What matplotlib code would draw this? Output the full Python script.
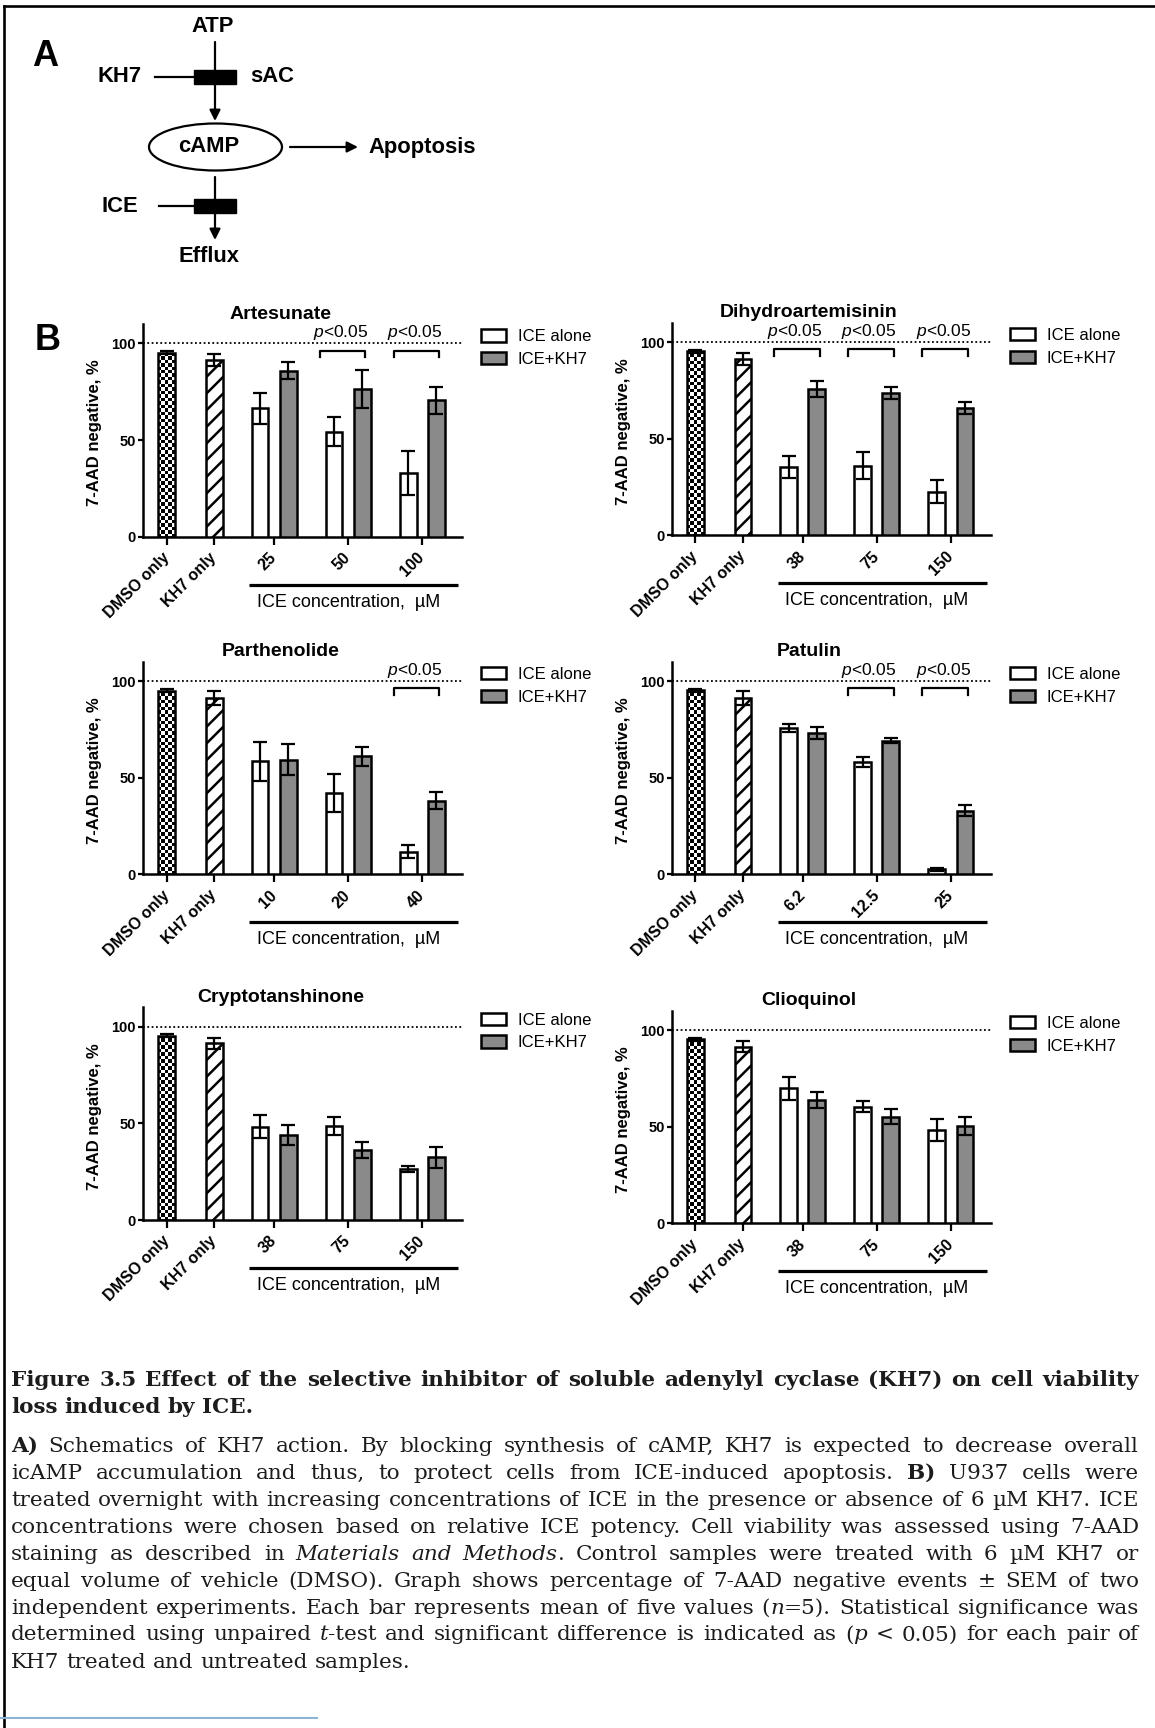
import re
import numpy as np
import matplotlib.pyplot as plt
from matplotlib.patches import Rectangle, Ellipse, Patch

plt.rcParams['font.family'] = ['Liberation Sans', 'DejaVu Sans']
plt.rcParams['mathtext.fontset'] = 'custom'
plt.rcParams['mathtext.rm'] = 'Liberation Sans'
plt.rcParams['mathtext.it'] = 'Liberation Sans:italic'
plt.rcParams['hatch.linewidth'] = 1.8

W, H = 1155, 1728

# viability data, % 7-AAD negative (mean and SEM)
titles = ['Artesunate', 'Dihydroartemisinin', 'Parthenolide', 'Patulin',
          'Cryptotanshinone', 'Clioquinol']
conc_labels = [['25', '50', '100'], ['38', '75', '150'], ['10', '20', '40'],
               ['6.2', '12.5', '25'], ['38', '75', '150'], ['38', '75', '150']]
dmso_mean = [95.2, 95.1, 95.0, 95.1, 95.4, 95.2]
dmso_sem = [0.8, 0.8, 0.8, 0.8, 0.8, 0.8]
kh7_mean = [91.4, 91.2, 91.3, 91.2, 91.4, 91.4]
kh7_sem = [3.0, 3.0, 3.5, 3.5, 3.0, 3.0]
alone_mean = [[66.4, 54.3, 32.8], [35.2, 36.1, 22.6], [58.4, 42.0, 11.7],
              [75.6, 58.3, 2.7], [48.3, 48.8, 26.4], [69.8, 60.3, 48.3]]
alone_sem = [[8.0, 7.6, 11.3], [5.6, 7.0, 6.0], [10.0, 10.0, 3.4],
             [2.2, 2.6, 0.8], [6.0, 4.7, 1.7], [6.0, 2.8, 5.6]]
combo_mean = [[85.9, 76.4, 70.7], [75.6, 73.6, 65.8], [59.3, 61.0, 38.0],
              [73.1, 69.2, 33.0], [44.0, 36.2, 32.4], [63.8, 55.2, 50.3]]
combo_sem = [[4.3, 10.0, 7.0], [4.0, 3.0, 3.0], [8.0, 5.0, 4.4],
             [3.0, 1.3, 2.6], [5.3, 4.2, 5.3], [4.3, 3.7, 4.8]]
sig_groups = [[1, 2], [0, 1, 2], [2], [1, 2], [], []]
legend_labels = ['ICE alone', 'ICE+KH7']

caption_lines = [
    ("^Figure 3.5 Effect of the selective inhibitor of soluble adenylyl cyclase (KH7) on cell viability", True),
    ("loss induced by ICE.^", False),
    ("^A)^ Schematics of KH7 action. By blocking synthesis of cAMP, KH7 is expected to decrease overall", True),
    ("icAMP accumulation and thus, to protect cells from ICE-induced apoptosis. ^B)^ U937 cells were", True),
    ("treated overnight with increasing concentrations of ICE in the presence or absence of 6 µM KH7. ICE", True),
    ("concentrations were chosen based on relative ICE potency. Cell viability was assessed using 7-AAD", True),
    ("staining as described in ~Materials and Methods~. Control samples were treated with 6 µM KH7 or", True),
    ("equal volume of vehicle (DMSO). Graph shows percentage of 7-AAD negative events ± SEM of two", True),
    ("independent experiments. Each bar represents mean of five values (~n~=5). Statistical significance was", True),
    ("determined using unpaired ~t~-test and significant difference is indicated as (~p~ < 0.05) for each pair of", True),
    ("KH7 treated and untreated samples.", False),
]
caption_y = [1380, 1407, 1446, 1473, 1500, 1527, 1554, 1581, 1608, 1634.5, 1661.5]

GREY = '#8a8a8a'
EDGE = 1.8

fig = plt.figure(figsize=(W / 100, H / 100), dpi=100)

# full-page layer in pixel units for the schematic, frame and caption
ov = fig.add_axes([0, 0, 1, 1])
ov.set_xlim(0, W)
ov.set_ylim(H, 0)
ov.axis('off')

ov.plot([4, 4], [6, H], color='k', lw=1.9, solid_capstyle='projecting')
ov.plot([4, W], [6, 6], color='k', lw=1.9, solid_capstyle='projecting')
ov.plot([0, 317], [1718, 1718], color='#8db4d6', lw=1.5)

# panel A: schematic
lab = dict(fontsize=15.8, fontweight='bold', ha='center', va='center')
ov.text(45.5, 56, 'A', fontsize=26, fontweight='bold', ha='center', va='center')
ov.text(47.5, 341, 'B', fontsize=26, fontweight='bold', ha='center', va='center')
ov.text(212.5, 27, 'ATP', **lab)
ov.text(120, 77, 'KH7', **lab)
ov.text(272, 77, 'sAC', **lab)
ov.text(209, 147, 'cAMP', **lab)
ov.text(368, 147, 'Apoptosis', fontsize=15.8, fontweight='bold', ha='left', va='center')
ov.text(120, 206, 'ICE', **lab)
ov.text(209, 256, 'Efflux', **lab)


def arrow(x0, y0, x1, y1):
    ov.annotate('', xy=(x1, y1), xytext=(x0, y0),
                arrowprops=dict(arrowstyle='-|>', lw=1.6, color='k',
                                mutation_scale=16, shrinkA=0, shrinkB=0))


arrow(215, 42, 215, 121)
arrow(290, 147, 358, 147)
arrow(215, 177, 215, 240)
ov.add_patch(Rectangle((194, 69.5), 42, 14, color='k'))
ov.add_patch(Rectangle((194, 199), 42, 14, color='k'))
ov.plot([155, 194], [76.5, 76.5], color='k', lw=1.6)
ov.plot([159, 194], [206, 206], color='k', lw=1.6)
ov.add_patch(Ellipse((215.5, 147), 133, 47, fill=False, lw=1.6, color='k'))

# panel B: six bar charts
col_left = [143.1, 671.7]
zero_line = [536.7, 535.3, 874.3, 874.3, 1220.0, 1223.3]
AX_W, AX_H = 319.0, 212.6
ctrl_x = [1.25, 3.75]
group_x = [6.9, 10.8, 14.7]
off, bw = 0.74, 0.88

for i, title in enumerate(titles):
    x0 = col_left[i % 2]
    y0 = zero_line[i]
    ax = fig.add_axes([x0 / W, 1 - y0 / H, AX_W / W, AX_H / H])
    ax.patch.set_alpha(0)

    # DMSO bar with a checkerboard fill
    dm = ax.bar(ctrl_x[0], dmso_mean[i], bw, facecolor='none', edgecolor='k',
                lw=EDGE, zorder=3)[0]
    cell = 1.8
    ny = int(np.ceil(dmso_mean[i] / cell)) + 1
    board = np.indices((ny, 5)).sum(axis=0) % 2
    im = ax.imshow(board, cmap='gray', origin='lower', aspect='auto',
                   interpolation='nearest', zorder=2,
                   extent=(ctrl_x[0] - bw / 2, ctrl_x[0] + bw / 2, 0, ny * cell))
    im.set_clip_path(dm)

    ax.bar(ctrl_x[1], kh7_mean[i], bw, facecolor='white', edgecolor='k',
           hatch='//', lw=EDGE, zorder=3)
    ax.errorbar(ctrl_x, [dmso_mean[i], kh7_mean[i]], yerr=[dmso_sem[i], kh7_sem[i]],
                fmt='none', ecolor='k', elinewidth=1.6, capsize=5, capthick=1.6, zorder=4)

    xa = [g - off for g in group_x]
    xc = [g + off for g in group_x]
    ax.bar(xa, alone_mean[i], bw, facecolor='white', edgecolor='k', lw=EDGE, zorder=3)
    ax.bar(xc, combo_mean[i], bw, facecolor=GREY, edgecolor='k', lw=EDGE, zorder=3)
    ax.errorbar(xa, alone_mean[i], yerr=alone_sem[i], fmt='none', ecolor='k',
                elinewidth=1.6, capsize=5, capthick=1.6, zorder=4)
    ax.errorbar(xc, combo_mean[i], yerr=combo_sem[i], fmt='none', ecolor='k',
                elinewidth=1.6, capsize=5, capthick=1.6, zorder=4)

    ax.axhline(100, color='k', lw=1.3, ls=(0, (1, 1.4)), zorder=1)

    for g in sig_groups[i]:
        cx = group_x[g] - 0.3
        ax.plot([cx - 1.2, cx - 1.2, cx + 1.2, cx + 1.2], [93, 96.2, 96.2, 93],
                color='k', lw=1.6, clip_on=False)
        ax.text(cx - 0.1, 105.4, r'$p$<0.05', ha='center', va='center', fontsize=12.5)

    ax.set_xlim(0, 16.8)
    ax.set_ylim(0, 110)
    ax.set_yticks([0, 50, 100])
    ax.set_yticklabels(['0', '50', '100'], fontsize=10.5, fontweight='bold')
    ax.set_xticks(ctrl_x + group_x)
    ax.set_xticklabels(['DMSO only', 'KH7 only'] + conc_labels[i], rotation=45,
                       ha='right', va='center', rotation_mode='anchor',
                       fontsize=11.5, fontweight='bold')
    ax.tick_params(axis='x', length=5.8, width=1.6, pad=7.5)
    ax.tick_params(axis='y', length=3.6, width=1.6, pad=1.5)
    for s in ['top', 'right']:
        ax.spines[s].set_visible(False)
    for s in ['left', 'bottom']:
        ax.spines[s].set_linewidth(EDGE)

    ax.text(0.43, 1.047, title, transform=ax.transAxes, ha='center', va='center',
            fontsize=14, fontweight='bold')
    ax.text(-0.151, 0.488, '7-AAD negative, %', transform=ax.transAxes,
            rotation=90, ha='center', va='center', fontsize=12, fontweight='bold')

    tr = ax.get_xaxis_transform()
    ax.plot([5.6, 16.6], [-0.225, -0.225], color='k', lw=2.3, transform=tr,
            clip_on=False, solid_capstyle='butt')
    ax.text(group_x[1], -0.308, 'ICE concentration,  µM', transform=tr,
            ha='center', va='center', fontsize=13)

    handles = [Patch(facecolor='white', edgecolor='k', lw=EDGE),
               Patch(facecolor=GREY, edgecolor='k', lw=EDGE)]
    ax.legend(handles, legend_labels, loc='upper left', bbox_to_anchor=(1.06, 0.975),
              frameon=False, fontsize=12, handlelength=1.5, handleheight=0.75,
              handletextpad=0.7, labelspacing=0.45, borderaxespad=0, borderpad=0)

# caption, justified word by word
CAP_FONT = 'DejaVu Serif'
cap_left, cap_right = 11, 1139
renderer = fig.canvas.get_renderer()


def split_runs(line, state):
    words = []
    for w in line.split(' '):
        runs = []
        for piece in re.split(r'([\^~])', w):
            if piece == '^':
                state['b'] = not state['b']
            elif piece == '~':
                state['i'] = not state['i']
            elif piece:
                runs.append((piece, state['b'], state['i']))
        words.append(runs)
    return words


def place_caption(size):
    state = {'b': False, 'i': False}
    made = []
    worst = 0
    probe = ov.text(0, 0, 'a a', fontsize=size, family=CAP_FONT)
    probe2 = ov.text(0, 0, 'aa', fontsize=size, family=CAP_FONT)
    space = probe.get_window_extent(renderer).width - probe2.get_window_extent(renderer).width
    probe.remove()
    probe2.remove()
    span = cap_right - cap_left
    for (line, justify), yc in zip(caption_lines, caption_y):
        words = split_runs(line, state)
        placed = []
        for runs in words:
            pieces = []
            for txt, b, it in runs:
                t = ov.text(0, yc + 6, txt, fontsize=size, family=CAP_FONT,
                            fontweight='bold' if b else 'normal',
                            style='italic' if it else 'normal',
                            ha='left', va='baseline', color='#1c1c1c')
                made.append(t)
                pieces.append((t, t.get_window_extent(renderer).width))
            placed.append(pieces)
        widths = [sum(p[1] for p in pieces) for pieces in placed]
        total = sum(widths)
        if justify and len(placed) > 1:
            gap = (span - total) / (len(placed) - 1)
            worst = max(worst, (total + space * (len(placed) - 1)) / span)
        else:
            gap = space
        x = cap_left
        for pieces, wsum in zip(placed, widths):
            xx = x
            for t, w in pieces:
                t.set_x(xx)
                xx += w
            x += wsum + gap
    return made, worst


# size the caption so the densest justified line just fills the column
texts, worst = place_caption(14)
for t in texts:
    t.remove()
texts, worst = place_caption(14 * 0.99 / worst)

fig.savefig('out.png', dpi=100)
